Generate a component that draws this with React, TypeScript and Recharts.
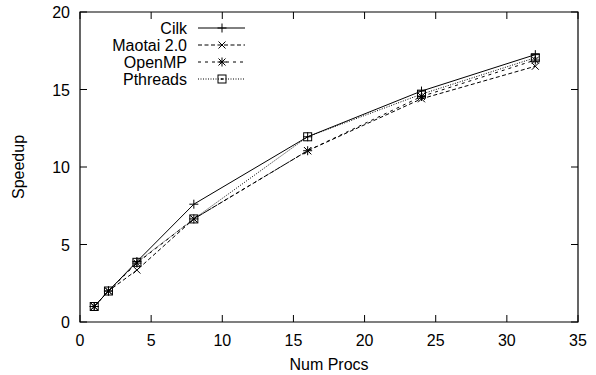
import { LineChart, Line, XAxis, YAxis, Legend, ReferenceArea } from "recharts";

const procs = [1, 2, 4, 8, 16, 24, 32];
const cilk = [1, 2, 3.9, 7.6, 11.95, 14.9, 17.25];
const maotai = [1, 2, 3.35, 6.65, 11.05, 14.4, 16.5];
const openmp = [1, 2, 3.8, 6.65, 11.05, 14.55, 16.9];
const pthreads = [1, 2, 3.85, 6.65, 11.95, 14.7, 17.05];

const xTicks = [0, 5, 10, 15, 20, 25, 30, 35];
const yTicks = [0, 5, 10, 15, 20];

const data = procs.map((p, i) => ({
  procs: p,
  cilk: cilk[i],
  maotai: maotai[i],
  openmp: openmp[i],
  pthreads: pthreads[i],
}));

// plot box in page pixels (gnuplot style inward ticks on all four sides)
const LEFT = 80;
const RIGHT = 578;
const TOP = 12;
const BOTTOM = 322;
const TICK = 7;
const FONT = "'Liberation Sans', Arial, Helvetica, sans-serif";

type Marker = "plus" | "cross" | "star" | "square";

const SERIES: { key: string; name: string; dash?: string; marker: Marker }[] = [
  { key: "cilk", name: "Cilk", marker: "plus" },
  { key: "maotai", name: "Maotai 2.0", dash: "4 2.5", marker: "cross" },
  { key: "openmp", name: "OpenMP", dash: "3 4", marker: "star" },
  { key: "pthreads", name: "Pthreads", dash: "1 1.5", marker: "square" },
];

function MarkerShape({ cx, cy, kind }: { cx: number; cy: number; kind: Marker }) {
  const r = 4.5;
  const s = { stroke: "#000", strokeWidth: 1, fill: "none" };
  if (kind === "plus")
    return (
      <g {...s}>
        <line x1={cx - r} y1={cy} x2={cx + r} y2={cy} />
        <line x1={cx} y1={cy - r} x2={cx} y2={cy + r} />
      </g>
    );
  if (kind === "cross")
    return (
      <g {...s}>
        <line x1={cx - 3.5} y1={cy - 3.5} x2={cx + 3.5} y2={cy + 3.5} />
        <line x1={cx - 3.5} y1={cy + 3.5} x2={cx + 3.5} y2={cy - 3.5} />
      </g>
    );
  if (kind === "star")
    return (
      <g {...s}>
        <line x1={cx - r} y1={cy} x2={cx + r} y2={cy} />
        <line x1={cx} y1={cy - r} x2={cx} y2={cy + r} />
        <line x1={cx - 3.5} y1={cy - 3.5} x2={cx + 3.5} y2={cy + 3.5} />
        <line x1={cx - 3.5} y1={cy + 3.5} x2={cx + 3.5} y2={cy - 3.5} />
      </g>
    );
  return (
    <g {...s}>
      <rect x={cx - 4} y={cy - 4} width={8} height={8} />
      <circle cx={cx} cy={cy} r={0.6} fill="#000" />
    </g>
  );
}

function XTick({ x, payload }: any) {
  return (
    <g>
      <line x1={x} y1={BOTTOM} x2={x} y2={BOTTOM - TICK} stroke="#000" />
      <line x1={x} y1={TOP} x2={x} y2={TOP + TICK} stroke="#000" />
      <text x={x} y={BOTTOM + 24} textAnchor="middle" fontSize={16} fontFamily={FONT} fill="#000">
        {payload.value}
      </text>
    </g>
  );
}

function YTick({ y, payload }: any) {
  return (
    <g>
      <line x1={LEFT} y1={y} x2={LEFT + TICK} y2={y} stroke="#000" />
      <line x1={RIGHT} y1={y} x2={RIGHT - TICK} y2={y} stroke="#000" />
      <text x={LEFT - 10} y={y + 6} textAnchor="end" fontSize={16} fontFamily={FONT} fill="#000">
        {payload.value}
      </text>
    </g>
  );
}

function KeyBox({ payload }: any) {
  const rows = (payload || []).map((p: any) => SERIES.find((s) => s.key === p.dataKey)!);
  return (
    <svg width={170} height={76} style={{ display: "block" }}>
      {rows.map((s: any, i: number) => {
        const y = 13 + i * 17;
        return (
          <g key={s.key}>
            <text x={97} y={y + 6} textAnchor="end" fontSize={16} fontFamily={FONT} fill="#000">
              {s.name}
            </text>
            <line x1={108} y1={y} x2={155} y2={y} stroke="#000" strokeDasharray={s.dash} />
            <MarkerShape cx={132} cy={y} kind={s.marker} />
          </g>
        );
      })}
    </svg>
  );
}

export default function App() {
  return (
    <div style={{ position: "absolute", left: 0, top: 0, background: "#fff" }}>
      <LineChart width={596} height={375} data={data} margin={{ top: 12, right: 18, left: 0, bottom: 23 }}>
        <XAxis
          dataKey="procs"
          type="number"
          domain={[0, 35]}
          ticks={xTicks}
          height={30}
          tickLine={false}
          axisLine={false}
          tick={<XTick />}
          label={{ value: "Num Procs", position: "bottom", offset: 7, fontSize: 16, fontFamily: FONT, fill: "#000" }}
        />
        <YAxis
          type="number"
          domain={[0, 20]}
          ticks={yTicks}
          width={80}
          tickLine={false}
          axisLine={false}
          tick={<YTick />}
          label={{
            value: "Speedup",
            angle: -90,
            position: "insideLeft",
            offset: 18,
            fontSize: 16,
            fontFamily: FONT,
            fill: "#000",
            style: { textAnchor: "middle" },
          }}
        />
        <ReferenceArea x1={0} x2={35} y1={0} y2={20} fill="none" stroke="#000" strokeWidth={1.2} />
        {SERIES.map((s) => (
          <Line
            key={s.key}
            dataKey={s.key}
            name={s.name}
            stroke="#000"
            strokeWidth={1}
            strokeDasharray={s.dash}
            isAnimationActive={false}
            dot={(p: any) => <MarkerShape key={`${s.key}-${p.index}`} cx={p.cx} cy={p.cy} kind={s.marker} />}
          />
        ))}
        <Legend
          layout="vertical"
          align="center"
          verticalAlign="middle"
          content={<KeyBox />}
          wrapperStyle={{ position: "absolute", left: 90, top: 15, width: 170 }}
        />
      </LineChart>
    </div>
  );
}
